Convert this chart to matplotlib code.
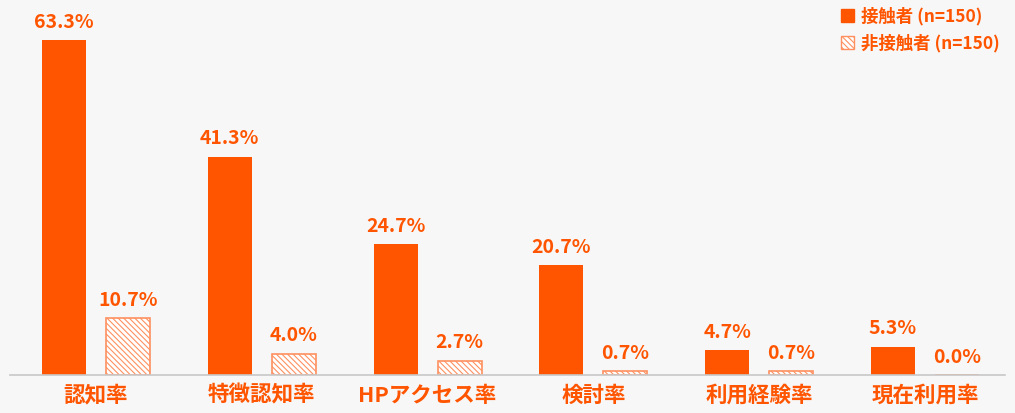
import numpy as np
import matplotlib
matplotlib.use("Agg")
import matplotlib.pyplot as plt
from matplotlib.patches import Patch

plt.rcParams['font.family'] = ['Noto Sans CJK JP', 'DejaVu Sans']
plt.rcParams['hatch.linewidth'] = 0.8

categories = ['認知率', '特徴認知率', 'HPアクセス率', '検討率', '利用経験率', '現在利用率']
contact = [63.3, 41.3, 24.7, 20.7, 4.7, 5.3]
non_contact = [10.7, 4.0, 2.7, 0.7, 0.7, 0.0]
series_names = ['接触者 (n=150)', '非接触者 (n=150)']

orange = '#ff5500'
hatch_col = '#ff9060'
bg = '#f7f7f7'

fig = plt.figure(figsize=(10.15, 4.13), dpi=100, facecolor=bg)
W, H = 1015, 413
ax = fig.add_axes([10 / W, (H - 375) / H, 995 / W, 370 / H])
ax.set_facecolor(bg)

x = np.arange(len(categories))
off = 32 / 165.8
bw = 44 / 165.8
hatch = '\\' * 6

ax.bar(x - off, contact, bw, color=orange, edgecolor=orange, linewidth=0)
plt.rcParams['hatch.color'] = hatch_col
ax.bar(x + off, non_contact, bw, facecolor='white', edgecolor=hatch_col,
       hatch=hatch, linewidth=1.2)

for i in range(len(categories)):
    ax.text(x[i] - off, contact[i] + 1.6, f'{contact[i]:.1f}%', ha='center', va='bottom',
            color=orange, fontsize=14, fontweight='bold')
    ax.text(x[i] + off, non_contact[i] + 1.6, f'{non_contact[i]:.1f}%', ha='center', va='bottom',
            color=orange, fontsize=14, fontweight='bold')

ax.set_xlim(-86 / 165.8, 5 + 80 / 165.8)
ax.set_ylim(0, 370 / 5.29)
ax.set_xticks(x)
ax.set_xticklabels(categories, color=orange, fontsize=15.5, fontweight='bold')
ax.tick_params(axis='x', length=0, pad=7)
ax.set_yticks([])
for s in ['top', 'right', 'left']:
    ax.spines[s].set_visible(False)
ax.spines['bottom'].set_color('#c8c8c8')
ax.spines['bottom'].set_linewidth(1.2)

handles = [Patch(facecolor=orange, edgecolor=orange),
           Patch(facecolor='white', edgecolor=hatch_col, hatch=hatch)]
leg = fig.legend(handles, series_names, loc='upper right', bbox_to_anchor=(1000 / W, 1 - 7 / H),
                 frameon=False, fontsize=12.5, handlelength=0.75, handleheight=0.75,
                 handletextpad=0.4, labelspacing=0.5, borderaxespad=0, borderpad=0)
for t in leg.get_texts():
    t.set_color(orange)
    t.set_fontweight('bold')

fig.savefig('out.png', dpi=100, facecolor=bg)
